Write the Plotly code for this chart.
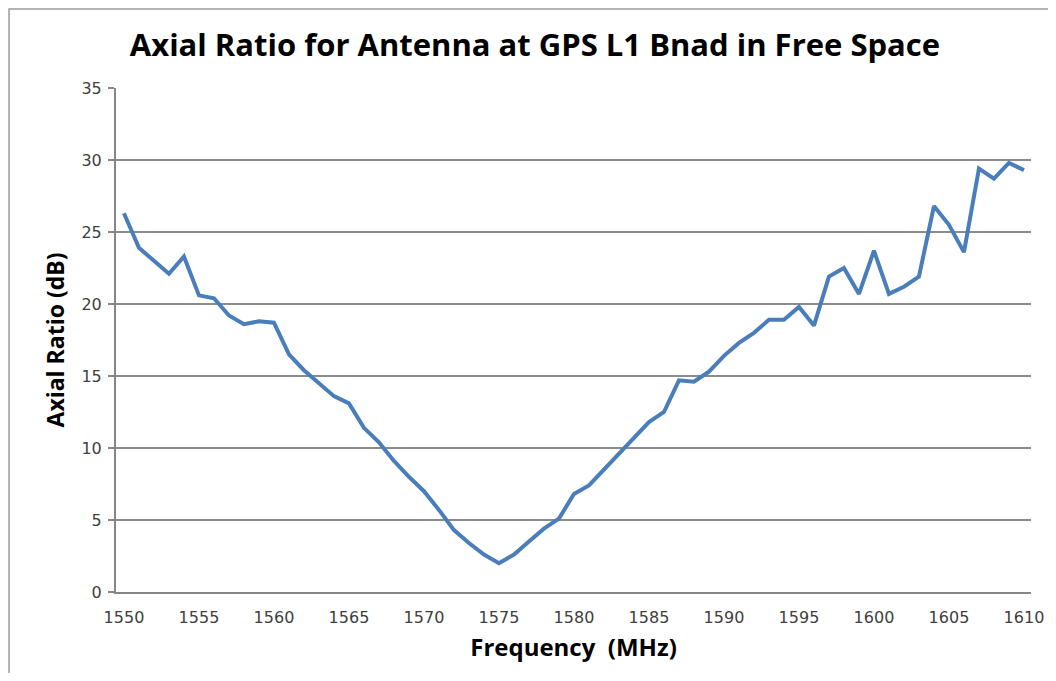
import plotly.graph_objects as go

# Frequency (MHz) and measured axial ratio (dB)
freq_mhz = list(range(1550, 1611))
axial_ratio_db = [
    26.3, 23.9, 23.0, 22.1, 23.3, 20.6, 20.4, 19.2, 18.6, 18.8,
    18.7, 16.5, 15.4, 14.5, 13.6, 13.1, 11.4, 10.4, 9.1, 8.0,
    7.0, 5.7, 4.3, 3.4, 2.6, 2.0, 2.6, 3.5, 4.4, 5.1,
    6.8, 7.4, 8.5, 9.5, 10.6, 11.8, 12.5, 14.7, 14.6, 15.3,
    16.4, 17.3, 18.0, 18.9, 18.9, 19.8, 18.5, 21.9, 22.5, 20.7,
    23.7, 20.7, 21.2, 21.9, 26.8, 25.5, 23.6, 29.4, 28.7, 29.8,
    29.3,
]
x_ticks = list(range(1550, 1611, 5))
y_ticks = list(range(0, 36, 5))

tick_font = dict(family="DejaVu Sans", size=16, color="#404040")
axis_title_font = dict(family="Open Sans", size=23, color="black")

fig = go.Figure()
fig.add_trace(go.Scatter(x=freq_mhz, y=axial_ratio_db, mode="lines",
                         line=dict(color="#4a7ebb", width=4), showlegend=False))

# page body has an 8px margin, so the figure is sized to sit inside the window
fig.update_layout(
    width=1040, height=665,
    paper_bgcolor="white", plot_bgcolor="white",
    margin=dict(l=108, r=17, t=80, b=81, autoexpand=False),
    title=dict(text="<b>Axial Ratio for Antenna at GPS L1 Bnad in Free Space</b>",
               font=dict(family="Open Sans", size=31, color="black"),
               x=0.5067, xref="container", xanchor="center",
               y=0.944, yref="container", yanchor="middle"),
)

fig.update_xaxes(
    range=[1549.47, 1610.47], tickvals=x_ticks, tickfont=tick_font,
    showgrid=False, zeroline=False, automargin=False, ticklabeloverflow="allow",
    showline=True, linecolor="#868686", linewidth=2,
    ticks="outside", ticklen=0, ticklabelstandoff=10,
    title=dict(text="<b>Frequency \u00a0(MHz)</b>", font=dict(family="Open Sans", size=24, color="black"),
               standoff=13),
)
fig.update_yaxes(
    range=[0, 35], tickvals=y_ticks, tickfont=tick_font,
    showgrid=True, gridcolor="#8c8c8c", gridwidth=1.5, zeroline=False, automargin=False,
    showline=True, linecolor="#868686", linewidth=2,
    ticks="outside", ticklen=6, tickcolor="#868686", tickwidth=1.5,
    ticklabelstandoff=3,
    title=dict(text="<b>Axial Ratio (dB)</b>", font=axis_title_font, standoff=10),
)

# outer chart border
fig.add_shape(type="rect", xref="paper", yref="paper",
              x0=-0.1169, x1=1.2, y0=-0.3, y1=1.1567,
              line=dict(color="#9a9a9a", width=1.5), layer="below")

fig.write_html("out.html")
